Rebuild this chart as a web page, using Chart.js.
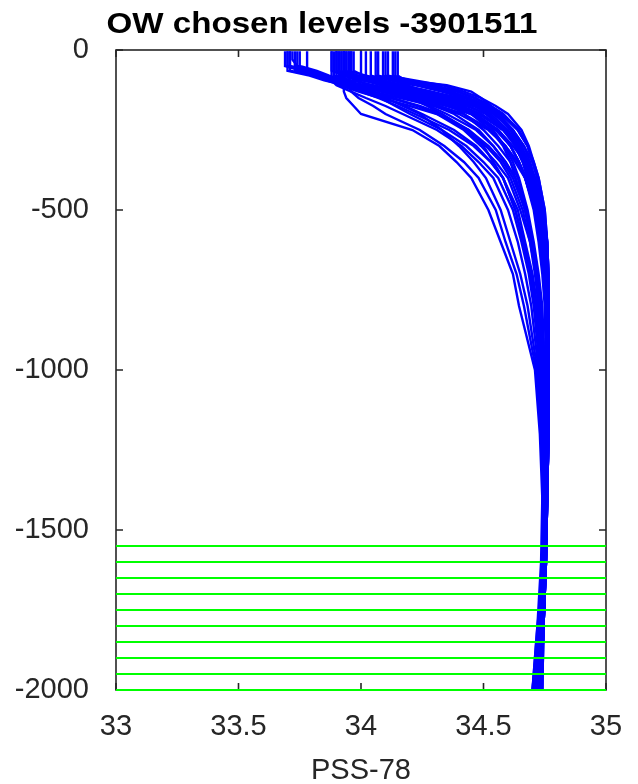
<!DOCTYPE html>
<html>
<head>
<meta charset="utf-8">
<script src="https://cdn.jsdelivr.net/npm/chart.js@4.4.0/dist/chart.umd.min.js"></script>
<style>
  html, body { margin: 0; padding: 0; background: #fff; }
</style>
</head>
<body>
<canvas id="owChart" width="638" height="784"></canvas>
<script>
// ==== Pressure levels (dbar) shared by all profiles ====
const pressures = [4, 30, 50, 65, 80, 95, 110, 130, 150, 175, 200, 250, 300, 350, 400, 500, 600, 700, 800, 1000, 1200, 1400, 1600, 1800, 2000];

// ==== Salinity profiles (PSS-78), one value per pressure level ====
const salA1 = [33.69,33.69,33.69,33.76,33.82,33.86,33.92,34.02,34.12,34.24,34.33,34.44,34.51,34.57,34.61,34.66,34.69,34.715,34.73,34.745,34.75,34.75,34.745,34.73,34.71];
const salA2 = [33.70,33.70,33.70,33.70,33.79,33.85,33.93,34.05,34.16,34.30,34.40,34.52,34.59,34.63,34.67,34.71,34.73,34.745,34.755,34.76,34.76,34.755,34.75,34.74,34.73];
const salA3 = [33.71,33.71,33.71,33.80,33.86,33.90,33.94,34.00,34.07,34.15,34.22,34.36,34.46,34.53,34.58,34.64,34.67,34.70,34.72,34.74,34.75,34.75,34.745,34.73,34.71];
const salA4 = [33.72,33.72,33.74,33.80,33.85,33.88,33.91,33.99,34.08,34.20,34.31,34.44,34.52,34.58,34.62,34.67,34.70,34.72,34.735,34.75,34.755,34.755,34.75,34.72,34.70];
const salA5 = [33.73,33.73,33.73,33.73,33.83,33.89,33.97,34.10,34.22,34.35,34.45,34.56,34.62,34.67,34.70,34.73,34.75,34.76,34.765,34.765,34.765,34.76,34.755,34.745,34.735];
const salA6 = [33.75,33.75,33.75,33.82,33.87,33.93,34.00,34.12,34.24,34.36,34.45,34.55,34.61,34.645,34.675,34.71,34.73,34.745,34.755,34.76,34.76,34.755,34.75,34.74,34.73];
const salA7 = [33.78,33.78,33.78,33.78,33.86,33.91,33.98,34.09,34.19,34.30,34.38,34.48,34.54,34.59,34.63,34.67,34.70,34.72,34.735,34.75,34.755,34.755,34.75,34.735,34.72];

const salB1 = [33.88,33.88,33.88,33.88,33.93,33.98,34.04,34.14,34.25,34.37,34.46,34.56,34.61,34.645,34.67,34.71,34.73,34.745,34.755,34.76,34.76,34.755,34.75,34.74,34.73];
const salB2 = [33.89,33.89,33.89,33.89,33.89,33.96,34.05,34.17,34.28,34.40,34.49,34.58,34.64,34.68,34.71,34.74,34.755,34.76,34.765,34.765,34.765,34.76,34.755,34.745,34.735];
const salB3 = [33.90,33.90,33.90,33.90,33.95,34.01,34.08,34.19,34.30,34.41,34.49,34.58,34.63,34.66,34.68,34.715,34.735,34.75,34.755,34.76,34.76,34.755,34.75,34.74,34.725];
const salB4 = [33.91,33.91,33.91,33.91,33.91,33.94,33.98,34.04,34.10,34.18,34.25,34.38,34.47,34.53,34.58,34.63,34.665,34.695,34.715,34.735,34.745,34.75,34.745,34.725,34.705];
const salB5 = [33.92,33.92,33.92,33.92,33.92,33.92,34.00,34.13,34.26,34.39,34.48,34.58,34.64,34.68,34.71,34.735,34.75,34.76,34.765,34.765,34.765,34.76,34.75,34.74,34.73];
const salB6 = [33.93,33.93,33.93,33.93,33.99,34.06,34.14,34.26,34.36,34.46,34.53,34.60,34.64,34.665,34.685,34.72,34.74,34.75,34.76,34.76,34.76,34.76,34.755,34.745,34.735];
const salB7 = [33.94,33.94,33.94,33.94,33.94,34.02,34.10,34.20,34.29,34.38,34.45,34.53,34.58,34.61,34.63,34.67,34.70,34.72,34.735,34.75,34.755,34.755,34.75,34.735,34.72];
const salB8 = [33.96,33.96,33.96,33.96,33.96,34.05,34.15,34.28,34.38,34.48,34.55,34.62,34.665,34.69,34.71,34.74,34.755,34.76,34.765,34.765,34.765,34.76,34.755,34.745,34.735];
const salB9 = [33.92,33.92,33.92,33.92,33.97,34.03,34.08,34.14,34.20,34.27,34.33,34.43,34.50,34.54,34.58,34.63,34.66,34.69,34.71,34.735,34.745,34.75,34.745,34.73,34.71];
const salB10 = [33.95,33.95,33.95,33.95,34.02,34.09,34.17,34.29,34.40,34.49,34.55,34.61,34.645,34.67,34.69,34.72,34.74,34.75,34.755,34.76,34.76,34.755,34.75,34.74,34.73];

const salC1 = [34.04,34.04,34.04,34.04,34.04,34.12,34.22,34.33,34.42,34.50,34.56,34.62,34.65,34.67,34.69,34.72,34.74,34.75,34.755,34.76,34.76,34.755,34.75,34.74,34.73];
const salC2 = [34.07,34.07,34.07,34.07,34.07,34.16,34.26,34.36,34.44,34.52,34.57,34.64,34.68,34.70,34.72,34.745,34.76,34.765,34.765,34.765,34.765,34.76,34.755,34.745,34.74];
const salC3 = [34.09,34.09,34.09,34.09,34.09,34.13,34.19,34.25,34.30,34.37,34.42,34.50,34.56,34.61,34.64,34.675,34.70,34.72,34.735,34.75,34.755,34.755,34.75,34.735,34.72];
const salC4 = [34.13,34.13,34.13,34.13,34.13,34.20,34.30,34.40,34.47,34.53,34.58,34.645,34.68,34.70,34.72,34.745,34.76,34.765,34.765,34.765,34.765,34.76,34.755,34.745,34.735];
const salC5 = [34.00,34.00,34.00,34.00,34.00,34.08,34.17,34.28,34.37,34.46,34.52,34.59,34.63,34.66,34.68,34.715,34.735,34.75,34.755,34.76,34.76,34.755,34.75,34.74,34.725];
const salC6 = [34.11,34.11,34.11,34.11,34.11,34.22,34.33,34.42,34.49,34.55,34.60,34.655,34.685,34.705,34.725,34.75,34.76,34.765,34.765,34.765,34.765,34.76,34.755,34.745,34.74];
const salR1 = [34.15,34.15,34.15,34.15,34.15,34.18,34.35,34.45,34.49,34.53,34.56,34.61,34.645,34.68,34.71,34.74,34.755,34.76,34.765,34.765,34.765,34.76,34.755,34.745,34.74];

const salD1 = [33.70,33.70,33.70,33.78,33.84,33.89,33.95,34.04,34.13,34.23,34.31,34.42,34.49,34.55,34.60,34.65,34.69,34.71,34.725,34.74,34.745,34.745,34.74,34.725,34.705];
const salD2 = [33.71,33.71,33.71,33.71,33.81,33.88,33.96,34.08,34.19,34.32,34.42,34.53,34.59,34.64,34.67,34.71,34.735,34.75,34.755,34.76,34.76,34.755,34.745,34.735,34.72];
const salD3 = [33.74,33.74,33.74,33.79,33.85,33.92,34.02,34.16,34.28,34.40,34.49,34.59,34.645,34.68,34.705,34.74,34.755,34.76,34.765,34.765,34.765,34.76,34.75,34.74,34.73];
const salD4 = [33.90,33.90,33.90,33.90,33.90,33.93,33.97,34.02,34.08,34.14,34.20,34.33,34.43,34.50,34.56,34.62,34.655,34.685,34.705,34.73,34.74,34.74,34.735,34.72,34.70];
const salD5 = [33.91,33.91,33.91,33.91,33.96,34.03,34.11,34.22,34.32,34.43,34.51,34.59,34.635,34.665,34.69,34.725,34.745,34.755,34.76,34.76,34.76,34.755,34.75,34.74,34.73];
const salD6 = [33.93,33.93,33.93,33.93,33.93,34.00,34.12,34.26,34.37,34.47,34.54,34.62,34.665,34.70,34.72,34.745,34.76,34.765,34.765,34.765,34.765,34.76,34.755,34.745,34.735];
const salD7 = [33.94,33.94,33.94,33.94,33.98,34.04,34.09,34.15,34.20,34.28,34.35,34.47,34.54,34.59,34.63,34.67,34.695,34.715,34.73,34.745,34.75,34.75,34.745,34.73,34.715];
const salD8 = [33.96,33.96,33.96,33.96,33.96,34.03,34.12,34.24,34.34,34.44,34.51,34.59,34.64,34.67,34.695,34.725,34.745,34.755,34.76,34.76,34.76,34.755,34.75,34.74,34.73];
const salD9 = [34.02,34.02,34.02,34.02,34.02,34.09,34.16,34.25,34.33,34.41,34.47,34.54,34.585,34.62,34.645,34.68,34.705,34.725,34.74,34.75,34.755,34.75,34.745,34.73,34.715];
const salD10 = [34.06,34.06,34.06,34.06,34.06,34.13,34.23,34.34,34.43,34.51,34.56,34.62,34.655,34.68,34.70,34.73,34.745,34.755,34.76,34.76,34.76,34.755,34.75,34.74,34.725];
const salD11 = [34.10,34.10,34.10,34.10,34.10,34.17,34.28,34.39,34.46,34.53,34.58,34.64,34.68,34.705,34.725,34.75,34.76,34.765,34.765,34.765,34.765,34.76,34.755,34.745,34.735];
const salD12 = [34.14,34.14,34.14,34.14,34.14,34.16,34.27,34.37,34.44,34.50,34.55,34.615,34.655,34.685,34.705,34.735,34.75,34.76,34.76,34.76,34.76,34.755,34.75,34.74,34.725];
const salD13 = [33.88,33.88,33.88,33.88,33.88,33.88,33.90,33.96,34.02,34.10,34.17,34.31,34.41,34.48,34.54,34.60,34.64,34.67,34.695,34.725,34.74,34.745,34.74,34.725,34.705];
const salD14 = [33.97,33.97,33.97,33.97,34.01,34.07,34.14,34.23,34.31,34.40,34.47,34.56,34.61,34.645,34.67,34.705,34.725,34.74,34.75,34.755,34.755,34.75,34.745,34.735,34.72];

const salO1 = [33.93,33.93,33.93,33.93,33.93,33.93,33.93,33.93,33.94,33.97,34.00,34.21,34.32,34.39,34.45,34.52,34.57,34.62,34.645,34.71,34.73,34.74,34.74,34.725,34.70];
const salO2 = [33.95,33.95,33.95,33.95,33.95,33.95,33.95,33.96,33.99,34.05,34.10,34.24,34.34,34.42,34.48,34.55,34.59,34.635,34.665,34.715,34.735,34.745,34.745,34.73,34.715];
const salO3 = [33.90,33.90,33.90,33.90,33.92,33.95,33.99,34.04,34.10,34.17,34.24,34.33,34.40,34.46,34.51,34.57,34.61,34.65,34.68,34.72,34.74,34.75,34.75,34.74,34.725];

const profiles = [salA1, salA2, salA3, salA4, salA5, salA6, salA7,
                  salB1, salB2, salB3, salB4, salB5, salB6, salB7, salB8, salB9, salB10,
                  salC1, salC2, salC3, salC4, salC5, salC6, salR1,
                  salD1, salD2, salD3, salD4, salD5, salD6, salD7,
                  salD8, salD9, salD10, salD11, salD12, salD13, salD14,
                  salO1, salO2, salO3];

// ==== OW chosen levels (dbar) ====
const chosenLevels = [1550, 1600, 1650, 1700, 1750, 1800, 1850, 1900, 1950, 2000];

// ==== Axis ticks ====
const xTicks = [33, 33.5, 34, 34.5, 35];
const yTicks = [0, -500, -1000, -1500, -2000];

const axisColor = '#262626';
const fontFamily = '"Liberation Sans", Arial, sans-serif';
const titleText = 'OW chosen levels -3901511';

// ==== Datasets ====
const levelSets = chosenLevels.map(p => ({
    data: [{ x: xTicks[0], y: -p }, { x: xTicks[xTicks.length - 1], y: -p }],
    borderColor: '#00ff00',
    borderWidth: 2.2,
    showLine: true,
    pointRadius: 0,
    clip: 2,
    order: 0
}));

const profileSets = profiles.map(sal => ({
    data: sal.map((s, i) => ({ x: s, y: -pressures[i] })),
    borderColor: '#0000ff',
    borderWidth: 2.4,
    showLine: true,
    pointRadius: 0,
    tension: 0,
    order: 1
}));

// frame, inward ticks (under the lines) and the title
const framePlugin = {
    id: 'frame',
    beforeDatasetsDraw(chart) {
        const { ctx, chartArea: { left, right, top, bottom }, scales: { x, y } } = chart;
        ctx.save();
        ctx.strokeStyle = axisColor;
        ctx.lineWidth = 1.6;
        ctx.beginPath();
        xTicks.forEach(v => {
            const px = x.getPixelForValue(v);
            ctx.moveTo(px, bottom); ctx.lineTo(px, bottom - 7);
            ctx.moveTo(px, top); ctx.lineTo(px, top + 7);
        });
        yTicks.forEach(v => {
            const py = y.getPixelForValue(v);
            ctx.moveTo(left, py); ctx.lineTo(left + 7, py);
            ctx.moveTo(right, py); ctx.lineTo(right - 7, py);
        });
        ctx.stroke();
        ctx.strokeRect(left, top, right - left, bottom - top);
        ctx.restore();
    },
    afterDraw(chart) {
        const { ctx } = chart;
        ctx.save();
        // title, slightly widened like the original figure font
        ctx.fillStyle = '#000';
        ctx.font = 'bold 29px ' + fontFamily;
        ctx.textAlign = 'center';
        ctx.textBaseline = 'alphabetic';
        const w = ctx.measureText(titleText).width;
        ctx.translate(322, 33);
        ctx.scale(431 / w, 1);
        ctx.fillText(titleText, 0, 0);
        ctx.restore();
    }
};

new Chart(document.getElementById('owChart'), {
    type: 'scatter',
    data: { datasets: [...levelSets, ...profileSets] },
    options: {
        responsive: false,
        animation: false,
        layout: { padding: { left: 0, right: 32, top: 50, bottom: 0 } },
        plugins: {
            legend: { display: false },
            tooltip: { enabled: false }
        },
        scales: {
            x: {
                type: 'linear',
                min: 33,
                max: 35,
                afterBuildTicks: s => { s.ticks = xTicks.map(v => ({ value: v })); },
                afterFit: s => { s.height = 94; },
                ticks: {
                    color: axisColor,
                    padding: 12,
                    font: { family: fontFamily, size: 29 },
                    callback: v => String(v)
                },
                grid: { display: false },
                border: { display: false },
                title: {
                    display: true,
                    text: 'PSS-78',
                    color: axisColor,
                    font: { family: fontFamily, size: 29, lineHeight: 0.9 },
                    padding: { top: 0, bottom: 0 }
                }
            },
            y: {
                type: 'linear',
                min: -2000,
                max: 0,
                afterBuildTicks: s => { s.ticks = yTicks.map(v => ({ value: v })); },
                afterFit: s => { s.width = 116; },
                ticks: {
                    color: axisColor,
                    padding: 19,
                    font: { family: fontFamily, size: 29 },
                    callback: v => String(v)
                },
                grid: { display: false },
                border: { display: false }
            }
        }
    },
    plugins: [framePlugin]
});
</script>
</body>
</html>
